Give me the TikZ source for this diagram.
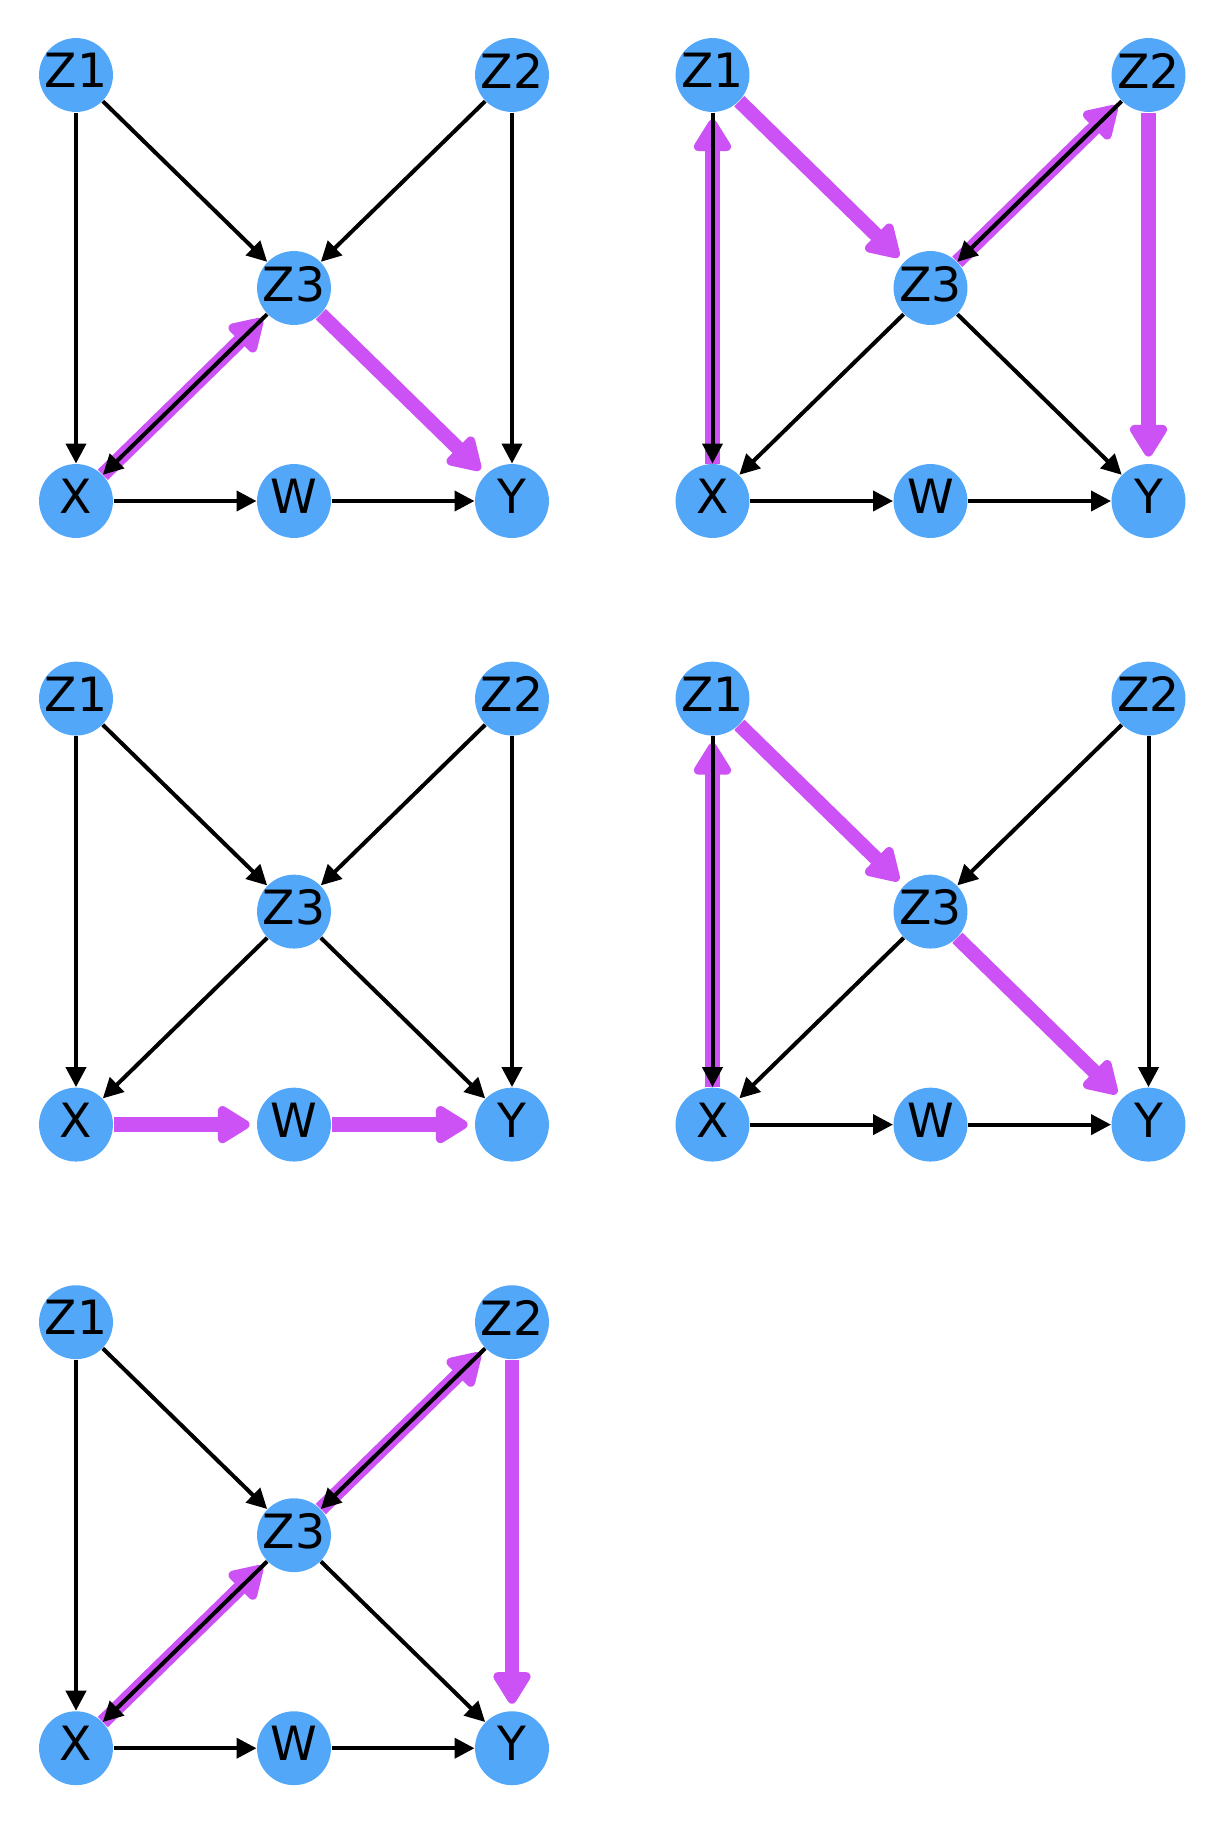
\documentclass[tikz,border=0pt]{standalone}
\usepackage{xcolor}
\usepackage{fontspec}
\setmainfont{DejaVu Sans}
\usepackage{tikz}
\usetikzlibrary{arrows.meta}

\definecolor{nodeblue}{RGB}{83,167,248}
\definecolor{trailpink}{RGB}{204,82,246}

% the six variables of one panel: #1 name prefix, #2/#3 panel offset
\newcommand{\dagnodes}[3]{%
  \node[var] (#1z1) at (#2+76, #3+75) {Z1};
  \node[var] (#1z2) at (#2+512, #3+75) {Z2};
  \node[var] (#1z3) at (#2+294, #3+288) {Z3};
  \node[var] (#1x) at (#2+76, #3+501) {X};
  \node[var] (#1w) at (#2+294, #3+501) {W};
  \node[var] (#1y) at (#2+512, #3+501) {Y};
}

\begin{document}
\begin{tikzpicture}[x=0.36pt, y=-0.36pt,
  var/.style={circle, fill=nodeblue, inner sep=-1.5pt, minimum size=26.6pt, text depth=3.2pt, font=\fontsize{17pt}{19pt}\selectfont},
  causal/.style={line width=1.44pt, -{Triangle[length=7.2pt, width=7.2pt]}},
  trail/.style={trailpink, line width=5.2pt, -{Triangle[round, length=13pt, width=15pt]}, shorten >=2.5pt}]
  \useasboundingbox (0,0) rectangle (1224,1824);

  % Panel 1: X <- Z3 -> Y
  \dagnodes{a}{0}{0}
  \draw[trail] (ax) -- (az3);
  \draw[trail] (az3) -- (ay);
  \foreach \s/\t in {z1/z3, z2/z3, z1/x, z2/y, z3/x, x/w, w/y}
    \draw[causal] (a\s) -- (a\t);

  % Panel 2: X <- Z1 -> Z3 <- Z2 -> Y
  \dagnodes{b}{636.5}{0}
  \draw[trail] (bx) -- (bz1);
  \draw[trail] (bz1) -- (bz3);
  \draw[trail] (bz3) -- (bz2);
  \draw[trail] (bz2) -- (by);
  \foreach \s/\t in {z2/z3, z1/x, z3/x, z3/y, x/w, w/y}
    \draw[causal] (b\s) -- (b\t);

  % Panel 3: X -> W -> Y
  \dagnodes{c}{0}{623.6}
  \draw[trail] (cx) -- (cw);
  \draw[trail] (cw) -- (cy);
  \foreach \s/\t in {z1/z3, z2/z3, z1/x, z2/y, z3/x, z3/y}
    \draw[causal] (c\s) -- (c\t);

  % Panel 4: X <- Z1 -> Z3 -> Y
  \dagnodes{d}{636.5}{623.6}
  \draw[trail] (dx) -- (dz1);
  \draw[trail] (dz1) -- (dz3);
  \draw[trail] (dz3) -- (dy);
  \foreach \s/\t in {z2/z3, z1/x, z2/y, z3/x, x/w, w/y}
    \draw[causal] (d\s) -- (d\t);

  % Panel 5: X <- Z3 <- Z2 -> Y
  \dagnodes{e}{0}{1247.2}
  \draw[trail] (ex) -- (ez3);
  \draw[trail] (ez3) -- (ez2);
  \draw[trail] (ez2) -- (ey);
  \foreach \s/\t in {z1/z3, z2/z3, z1/x, z3/x, z3/y, x/w, w/y}
    \draw[causal] (e\s) -- (e\t);
\end{tikzpicture}
\end{document}
